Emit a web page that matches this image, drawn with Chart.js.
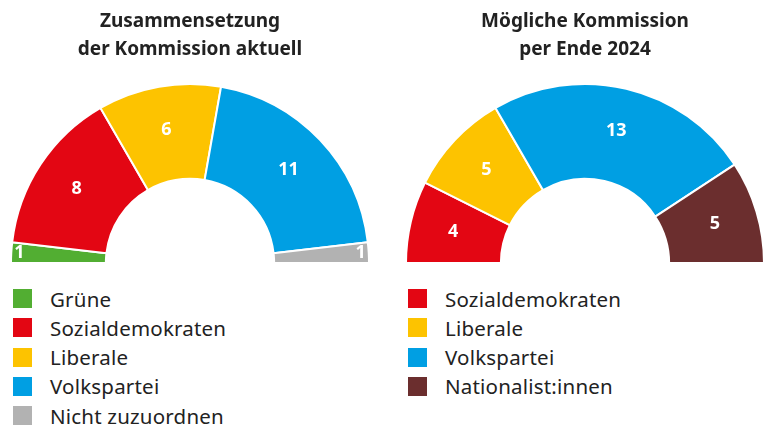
<!DOCTYPE html>
<html>
<head>
<meta charset="utf-8">
<script src="https://cdn.jsdelivr.net/npm/chart.js@4.4.1/dist/chart.umd.min.js"></script>
<style>
  body { margin: 0; background: #fff; width: 769px; height: 430px; position: relative; overflow: hidden; font-family: "Noto Sans", sans-serif; }
  .box { position: absolute; top: 0; height: 270px; }
  .legend { position: absolute; list-style: none; margin: 0; padding: 0; top: 284px; }
  .legend li { height: 29.25px; display: flex; align-items: center; font-size: 20.5px; color: #222; letter-spacing: 0.2px; }
  .legend span { width: 19px; height: 19px; margin-right: 18px; flex: none; }
</style>
</head>
<body>
<div class="box" style="left:0;width:384px"><canvas id="chartNow"></canvas></div>
<div class="box" style="left:384px;width:385px"><canvas id="chartFuture"></canvas></div>
<ul class="legend" id="legendNow" style="left:13px"></ul>
<ul class="legend" id="legendFuture" style="left:408px"></ul>
<script>
// aktuelle Kommission
const partiesNow = ["Grüne", "Sozialdemokraten", "Liberale", "Volkspartei", "Nicht zuzuordnen"];
const seatsNow = [1, 8, 6, 11, 1];
const colorsNow = ["#52ae32", "#e30613", "#fdc300", "#009fe3", "#b2b2b2"];

// mögliche Kommission Ende 2024
const partiesFuture = ["Sozialdemokraten", "Liberale", "Volkspartei", "Nationalist:innen"];
const seatsFuture = [4, 5, 13, 5];
const colorsFuture = ["#e30613", "#fdc300", "#009fe3", "#6b2e2e"];

const titleNow = ["Zusammensetzung", "der Kommission aktuell"];
const titleFuture = ["Mögliche Kommission", "per Ende 2024"];

// white numbers inside the segments
const segmentLabels = {
    id: "segmentLabels",
    afterDatasetsDraw(chart) {
        const ctx = chart.ctx;
        const meta = chart.getDatasetMeta(0);
        const values = chart.data.datasets[0].data;
        ctx.save();
        ctx.fillStyle = "#fff";
        ctx.font = "bold 18px 'Noto Sans'";
        ctx.textAlign = "center";
        ctx.textBaseline = "middle";
        meta.data.forEach(function(arc, i) {
            const p = arc.getProps(["x", "y", "startAngle", "endAngle", "innerRadius", "outerRadius"], true);
            const mid = (p.startAngle + p.endAngle) / 2;
            let r = (p.innerRadius + p.outerRadius) / 2 + 4;
            if (values[i] < 2) r = p.outerRadius - 8;
            ctx.fillText(values[i], p.x + Math.cos(mid) * r, p.y + Math.sin(mid) * r);
        });
        ctx.restore();
    }
};

function makeChart(id, labels, data, colors, title, padLeft, padRight) {
    return new Chart(document.getElementById(id), {
        type: "doughnut",
        data: {
            labels: labels,
            datasets: [{
                data: data,
                backgroundColor: colors,
                borderColor: "#fff",
                borderWidth: 2,
                hoverOffset: 0
            }]
        },
        options: {
            responsive: true,
            maintainAspectRatio: false,
            animation: false,
            rotation: -90,
            circumference: 180,
            cutout: "47%",
            layout: { padding: { left: padLeft, right: padRight, top: 0, bottom: 6 } },
            plugins: {
                legend: { display: false },
                tooltip: { enabled: false },
                title: {
                    display: true,
                    text: title,
                    color: "#222",
                    font: { family: "'Noto Sans'", size: 19, weight: "bold", lineHeight: 1.47 },
                    padding: { top: 8, bottom: 19 }
                }
            }
        },
        plugins: [segmentLabels]
    });
}

function makeLegend(id, labels, colors) {
    const ul = document.getElementById(id);
    labels.forEach(function(label, i) {
        const li = document.createElement("li");
        const sw = document.createElement("span");
        sw.style.background = colors[i];
        li.appendChild(sw);
        li.appendChild(document.createTextNode(label));
        ul.appendChild(li);
    });
}

makeChart("chartNow", partiesNow, seatsNow, colorsNow, titleNow, 10, 14);
makeChart("chartFuture", partiesFuture, seatsFuture, colorsFuture, titleFuture, 21, 4);
makeLegend("legendNow", partiesNow, colorsNow);
makeLegend("legendFuture", partiesFuture, colorsFuture);
</script>
</body>
</html>
